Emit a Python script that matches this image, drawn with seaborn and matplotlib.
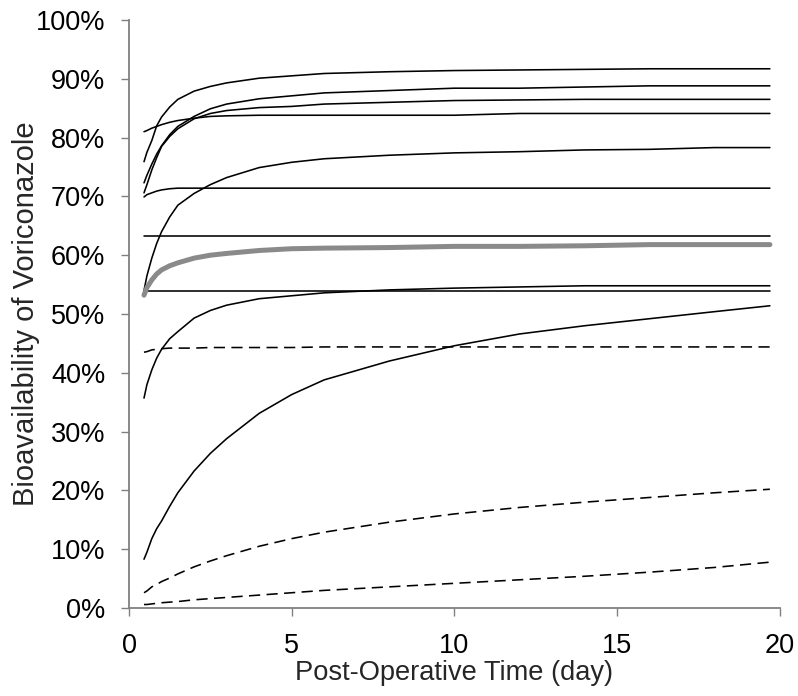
import numpy as np
import pandas as pd
import seaborn as sns
import matplotlib.pyplot as plt
from matplotlib.ticker import PercentFormatter

# Post-operative time grid (day) shared by all curves.
t = [0.46, 0.55, 0.7, 0.85, 1.0, 1.25, 1.5, 2.0, 2.5, 3.0, 4.0, 5.0, 6.0, 8.0, 10, 12, 14, 16, 18, 19.7]

# Bioavailability curves (%), solid black.
s1 = [75.9, 77.5, 79.5, 82.0, 83.5, 85.2, 86.5, 87.9, 88.7, 89.3, 90.1, 90.5, 90.9, 91.2, 91.4, 91.5, 91.6, 91.7, 91.7, 91.7]
s2 = [72.3, 73.6, 75.5, 77.2, 78.6, 80.5, 81.9, 83.6, 84.9, 85.7, 86.6, 87.1, 87.6, 88.0, 88.4, 88.4, 88.6, 88.8, 88.8, 88.8]
s3 = [70.6, 72.0, 74.5, 76.6, 78.5, 80.2, 81.5, 83.2, 84.1, 84.6, 85.1, 85.3, 85.7, 86.0, 86.3, 86.4, 86.5, 86.5, 86.5, 86.5]
s4 = [81.0, 81.2, 81.6, 81.9, 82.2, 82.6, 82.9, 83.3, 83.6, 83.7, 83.8, 83.8, 83.8, 83.8, 83.8, 84.1, 84.1, 84.1, 84.1, 84.1]
s5 = [54.0, 56.5, 59.5, 62.0, 64.0, 66.5, 68.5, 70.5, 72.0, 73.2, 74.9, 75.8, 76.4, 77.0, 77.4, 77.6, 77.9, 78.0, 78.3, 78.3]
s6 = [69.9, 70.3, 70.6, 70.9, 71.1, 71.3, 71.4, 71.4, 71.4, 71.4, 71.4, 71.4, 71.4, 71.4, 71.4, 71.4, 71.4, 71.4, 71.4, 71.4]
s7 = [63.3] * len(t)
s9 = [53.9] * len(t)
s10 = [35.7, 38.0, 40.5, 42.5, 44.0, 45.8, 47.0, 49.3, 50.6, 51.5, 52.6, 53.1, 53.6, 54.1, 54.4, 54.6, 54.8, 54.8, 54.8, 54.8]
s12 = [8.3, 9.5, 11.8, 13.5, 14.8, 17.3, 19.6, 23.3, 26.3, 28.8, 33.1, 36.3, 38.8, 42.0, 44.6, 46.6, 48.0, 49.2, 50.4, 51.4]

# Dashed curves.
d1 = [43.5, 43.6, 43.9, 44.0, 44.1, 44.2, 44.2, 44.2, 44.3, 44.3, 44.3, 44.3, 44.4, 44.4, 44.4, 44.4, 44.4, 44.4, 44.4, 44.4]
d2 = [2.6, 2.9, 3.6, 4.0, 4.5, 5.1, 5.8, 7.0, 8.0, 8.9, 10.5, 11.8, 12.9, 14.6, 16.0, 17.1, 18.0, 18.8, 19.6, 20.2]
d3 = [0.6, 0.6, 0.7, 0.8, 0.9, 1.0, 1.1, 1.4, 1.6, 1.8, 2.2, 2.6, 3.0, 3.6, 4.2, 4.8, 5.4, 6.1, 6.9, 7.8]

# Mean curve (thick gray).
mean = [53.2, 54.5, 55.8, 56.8, 57.5, 58.2, 58.7, 59.5, 60.0, 60.3, 60.8, 61.1, 61.2, 61.3, 61.5, 61.5, 61.6, 61.8, 61.8, 61.8]

sns.set_style("white")
plt.rcParams["font.family"] = ["Liberation Sans", "DejaVu Sans"]

fig, ax = plt.subplots(figsize=(7.98, 6.96), dpi=100)
fig.subplots_adjust(left=0.1617, right=0.977, top=0.9713, bottom=0.1264)

for s in [s1, s2, s3, s4, s5, s6, s7, s9, s10, s12]:
    sns.lineplot(x=t, y=s, ax=ax, color="black", lw=1.15)
for s in [d1, d2, d3]:
    sns.lineplot(x=t, y=s, ax=ax, color="black", lw=1.15, linestyle=(0, (7, 4)))
sns.lineplot(x=t, y=mean, ax=ax, color="#8a8a8a", lw=3.6, solid_capstyle="round")

ax.set_xlim(0, 20)
ax.set_ylim(0, 100)
ax.set_xticks([0, 5, 10, 15, 20])
ax.set_yticks(np.arange(0, 101, 10))
ax.yaxis.set_major_formatter(PercentFormatter(decimals=0))
ax.tick_params(axis="both", direction="out", length=6, width=1, color="#808080",
               labelsize=19.5, labelcolor="black", left=True, bottom=True)
ax.tick_params(axis="y", pad=11)
ax.tick_params(axis="x", pad=12)
for side in ["top", "right"]:
    ax.spines[side].set_visible(False)
for side in ["left", "bottom"]:
    ax.spines[side].set_color("#808080")
    ax.spines[side].set_linewidth(1.3)
ax.set_xlabel("Post-Operative Time (day)", fontsize=19.6, labelpad=1)
ax.set_ylabel("Bioavailability of Voriconazole", fontsize=21, labelpad=-3)

plt.savefig("out.png", dpi=100)
